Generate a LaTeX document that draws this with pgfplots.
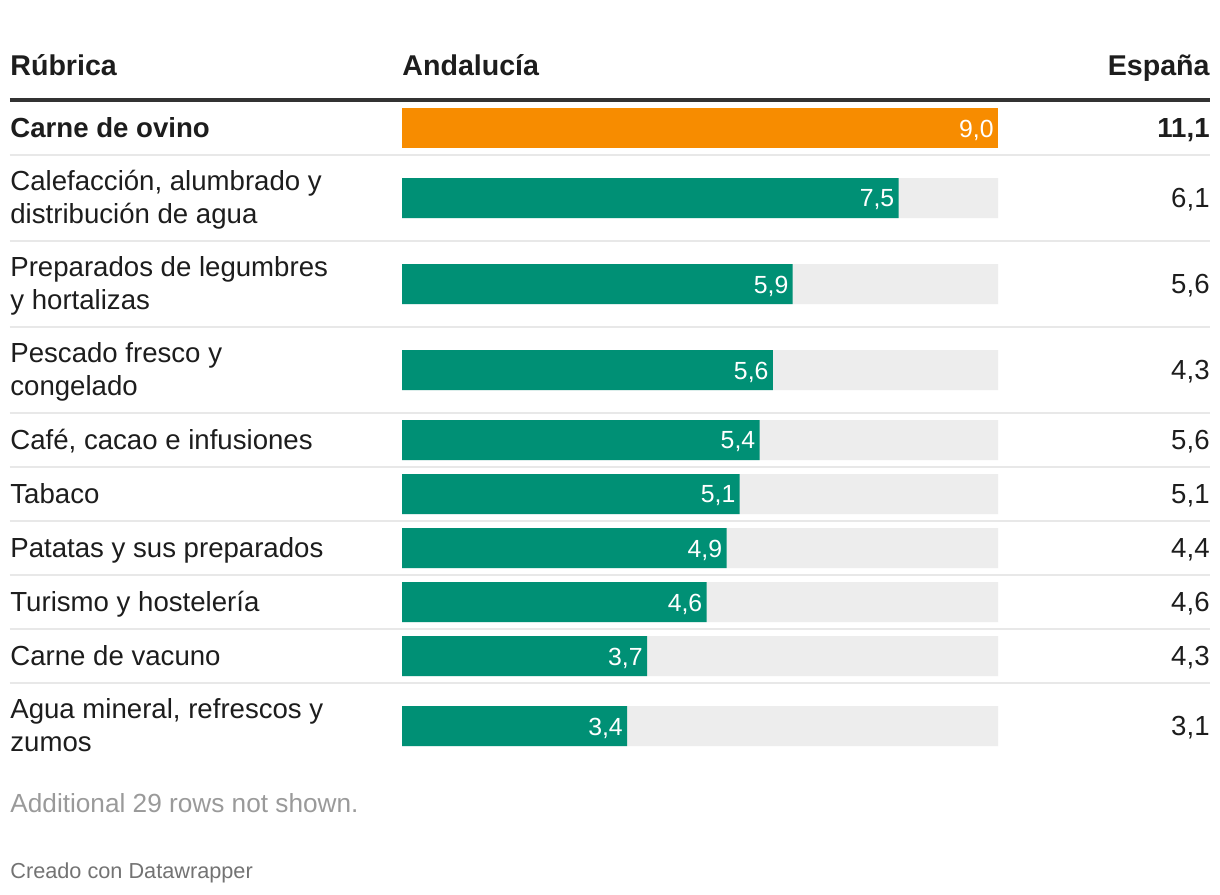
\documentclass[border=0pt]{standalone}
\usepackage{pgfplots}
\pgfplotsset{compat=1.18}
\usepackage{pgfplotstable}
\usepackage{fontspec}
\setmainfont{Liberation Sans}
\definecolor{dwteal}{HTML}{009075}
\definecolor{orng}{HTML}{F78C00}
\definecolor{bggray}{HTML}{EDEDED}
\definecolor{sep}{HTML}{E8E8E8}
\definecolor{hdr}{HTML}{333333}
\definecolor{txt}{HTML}{1D1D1D}
\definecolor{foot}{HTML}{9A9A9A}
\pgfplotstableread{
pos and
128 9.0
}\dataA
\pgfplotstableread{
pos and
198 7.5
284 5.9
370 5.6
440 5.4
494 5.1
548 4.9
602 4.6
656 3.7
726 3.4
}\dataB
\pgfplotstableread{
pos full
198 9
284 9
370 9
440 9
494 9
548 9
602 9
656 9
726 9
}\dataBG
\newcommand{\lab}{\fontsize{13.8}{16}\selectfont}
\newcommand{\hd}{\fontsize{14.3}{16}\selectfont\bfseries}
\begin{document}
\begin{tikzpicture}
\begin{axis}[
  scale only axis, width=610pt, height=447pt,
  xmin=-6.0705, xmax=12.3523, ymin=0, ymax=894, y dir=reverse,
  axis lines=none, ticks=none, clip=false,
  /pgf/number format/.cd, use comma, fixed, fixed zerofill, precision=1, assume math mode=true,
]
\fill[white] (rel axis cs:0,0) rectangle (rel axis cs:1,1);
% headers
\node[anchor=base west, inner sep=0, text=txt] at (axis cs:-5.9195,75) {\hd Rúbrica};
\node[anchor=base west, inner sep=0, text=txt] at (axis cs:0,75) {\hd Andalucía};
\node[anchor=base east, inner sep=0, text=txt] at (axis cs:12.2013,75) {\hd España};
\draw[line width=2pt, hdr] (axis cs:-5.9195,100) -- (axis cs:12.2013,100);
\pgfplotsinvokeforeach{155,241,327,413,467,521,575,629,683}{
  \draw[line width=1pt, sep] (axis cs:-5.9195,#1) -- (axis cs:12.2013,#1);
}
% bars
\addplot[xbar, bar shift=0pt, bar width=40, fill=bggray, draw=none] table[x=full, y=pos] {\dataBG};
\addplot[xbar, bar shift=0pt, bar width=40, fill=dwteal, draw=none,
  nodes near coords, point meta=x,
  nodes near coords style={anchor=east, inner sep=2pt, xshift=0pt, yshift=-1pt, text=white, font=\fontsize{12.4}{14}\selectfont}] table[x=and, y=pos] {\dataB};
\addplot[xbar, bar shift=0pt, bar width=40, fill=orng, draw=none,
  nodes near coords, point meta=x,
  nodes near coords style={anchor=east, inner sep=2pt, xshift=0pt, yshift=-1pt, text=white, font=\fontsize{12.4}{14}\selectfont}] table[x=and, y=pos] {\dataA};
% row labels
\node[anchor=base west, inner sep=0, text=txt] at (axis cs:-5.9195,137) {\lab\bfseries Carne de ovino};
\node[anchor=base west, inner sep=0, text=txt] at (axis cs:-5.9195,190) {\lab Calefacción, alumbrado y};
\node[anchor=base west, inner sep=0, text=txt] at (axis cs:-5.9195,223) {\lab distribución de agua};
\node[anchor=base west, inner sep=0, text=txt] at (axis cs:-5.9195,276) {\lab Preparados de legumbres};
\node[anchor=base west, inner sep=0, text=txt] at (axis cs:-5.9195,309) {\lab y hortalizas};
\node[anchor=base west, inner sep=0, text=txt] at (axis cs:-5.9195,362) {\lab Pescado fresco y};
\node[anchor=base west, inner sep=0, text=txt] at (axis cs:-5.9195,395) {\lab congelado};
\node[anchor=base west, inner sep=0, text=txt] at (axis cs:-5.9195,449) {\lab Café, cacao e infusiones};
\node[anchor=base west, inner sep=0, text=txt] at (axis cs:-5.9195,503) {\lab Tabaco};
\node[anchor=base west, inner sep=0, text=txt] at (axis cs:-5.9195,557) {\lab Patatas y sus preparados};
\node[anchor=base west, inner sep=0, text=txt] at (axis cs:-5.9195,611) {\lab Turismo y hostelería};
\node[anchor=base west, inner sep=0, text=txt] at (axis cs:-5.9195,665) {\lab Carne de vacuno};
\node[anchor=base west, inner sep=0, text=txt] at (axis cs:-5.9195,718) {\lab Agua mineral, refrescos y};
\node[anchor=base west, inner sep=0, text=txt] at (axis cs:-5.9195,751) {\lab zumos};
% España values
\node[anchor=base east, inner sep=0, text=txt] at (axis cs:12.2013,137) {\lab\bfseries 11,1};
\node[anchor=base east, inner sep=0, text=txt] at (axis cs:12.2013,207) {\lab 6,1};
\node[anchor=base east, inner sep=0, text=txt] at (axis cs:12.2013,293) {\lab 5,6};
\node[anchor=base east, inner sep=0, text=txt] at (axis cs:12.2013,379) {\lab 4,3};
\node[anchor=base east, inner sep=0, text=txt] at (axis cs:12.2013,449) {\lab 5,6};
\node[anchor=base east, inner sep=0, text=txt] at (axis cs:12.2013,503) {\lab 5,1};
\node[anchor=base east, inner sep=0, text=txt] at (axis cs:12.2013,557) {\lab 4,4};
\node[anchor=base east, inner sep=0, text=txt] at (axis cs:12.2013,611) {\lab 4,6};
\node[anchor=base east, inner sep=0, text=txt] at (axis cs:12.2013,665) {\lab 4,3};
\node[anchor=base east, inner sep=0, text=txt] at (axis cs:12.2013,735) {\lab 3,1};
% footer
\node[anchor=base west, inner sep=0, text=foot] at (axis cs:-5.9195,812) {\fontsize{13.1}{15}\selectfont Additional 29 rows not shown.};
\node[anchor=base west, inner sep=0, text=black!55] at (axis cs:-5.9195,878) {\fontsize{10.85}{12}\selectfont Creado con Datawrapper};
\end{axis}
\end{tikzpicture}
\end{document}
